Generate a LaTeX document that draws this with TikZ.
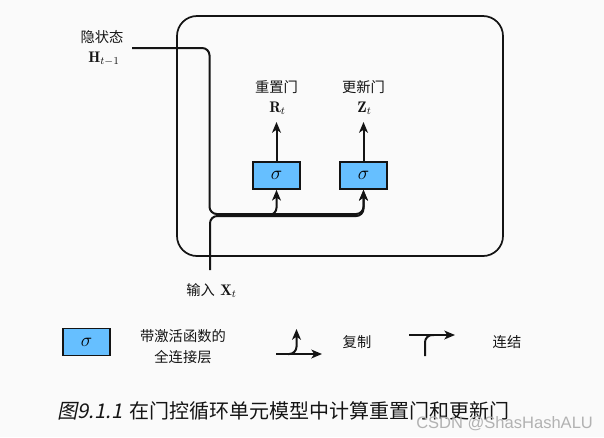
\documentclass[tikz,border=0pt]{standalone}
\usepackage{fontspec}
\newfontfamily\cjk{Noto Sans CJK SC}
\newfontfamily\cjkslant[FakeSlant=0.2]{Noto Sans CJK SC}
\newfontfamily\wmfont{Liberation Sans}
\usetikzlibrary{arrows.meta}
\definecolor{boxblue}{RGB}{102,191,255}
\definecolor{paper}{RGB}{250,250,250}
\definecolor{ink}{RGB}{20,20,20}
\tikzset{
  wire/.style={draw=ink, line width=1.5pt, rounded corners=5.5pt},
  line/.style={draw=ink, line width=1.5pt},
  arr/.style={-{Stealth[length=8pt,width=6.6pt,inset=2.2pt]}},
  fcbox/.style={draw=ink, line width=1.3pt, fill=boxblue,
    minimum width=35.2pt, minimum height=20.2pt, inner sep=0pt,
    font=\fontsize{14}{16}\selectfont},
  lbl/.style={font=\cjk\fontsize{10.7}{12}\selectfont, text=ink, inner sep=0pt},
  mathlbl/.style={font=\fontsize{11.5}{13}\selectfont, text=ink, inner sep=0pt},
}
\begin{document}
\begin{tikzpicture}[x=0.75pt, y=-0.75pt]
  \fill[paper] (0,0) rectangle (604,437);
  \useasboundingbox (0,0) rectangle (604,437);

  % GRU cell outline
  \draw[line, line width=1.3pt, rounded corners=15pt] (177,16) rectangle (503,256);

  % gate layers
  \node[fcbox] (r) at (276.5,175.5) {$\sigma$};
  \node[fcbox] (z) at (363.5,175.5) {$\sigma$};

  % gate outputs
  \coordinate (rout) at (276.5,122);
  \coordinate (zout) at (363.5,122);
  \draw[line, arr] (r.north) -- (rout);
  \draw[line, arr] (z.north) -- (zout);
  \node[lbl] (rname) at (276.5,87) {重置门};
  \node[mathlbl] (rsym) at (277.5,108) {$\mathbf{R}_t$};
  \node[lbl] (zname) at (363.5,87) {更新门};
  \node[mathlbl] (zsym) at (364.5,108) {$\mathbf{Z}_t$};

  % hidden state input
  \node[lbl] (hname) at (102,37) {隐状态};
  \node[mathlbl] (hsym) at (104,59) {$\mathbf{H}_{t-1}$};
  \coordinate (hstart) at (132,48);
  \draw[wire, arr] (hstart) -- (209.5,48) -- (209.5,214) -- (363.5,214) -- (z.south);

  % current input
  \node[lbl, anchor=west] (xname) at (186,290) {输入};
  \node[mathlbl, anchor=west] (xsym) at (220,291) {$\mathbf{X}_t$};
  \coordinate (xstart) at (210,270);
  \draw[wire, arr] (xstart) -- (210,216) -- (363.5,216) -- (z.south);
  \coordinate (rsplit) at (255,215);
  \draw[wire, arr] (rsplit) -- (276.5,215) -- (r.south);

  % legend
  \node[fcbox] (lbox) at (86.5,342) {$\sigma$};
  \node[lbl] (ltext1) at (183,336) {带激活函数的};
  \node[lbl] (ltext2) at (183,357) {全连接层};

  \coordinate (cpa) at (276,354);
  \coordinate (cpb) at (322,354);
  \coordinate (cpc) at (288,354);
  \coordinate (cpd) at (296.5,329);
  \draw[line, arr] (cpa) -- (cpb);
  \draw[wire, arr] (cpc) -- (296.5,354) -- (cpd);
  \node[lbl] (cptext) at (357,342) {复制};

  \coordinate (cca) at (409,335);
  \coordinate (ccb) at (455,335);
  \coordinate (ccc) at (425,356);
  \draw[line, arr] (cca) -- (ccb);
  \draw[wire] (ccc) -- (425,335) -- (434,335);
  \node[lbl] (cctext) at (507,342) {连结};

  % caption
  \node[anchor=west, inner sep=0pt, text=ink] (cap) at (57,411)
    {{\cjkslant\fontsize{15.2}{17}\selectfont 图9.1.1}\hspace{0.55em}{\cjk\fontsize{15}{17}\selectfont 在门控循环单元模型中计算重置门和更新门}};

  % watermark
  \node[anchor=west, inner sep=0pt, text=black!30] (wm) at (416,424)
    {\wmfont\fontsize{12.4}{14}\selectfont CSDN @ShasHashALU};
\end{tikzpicture}
\end{document}
